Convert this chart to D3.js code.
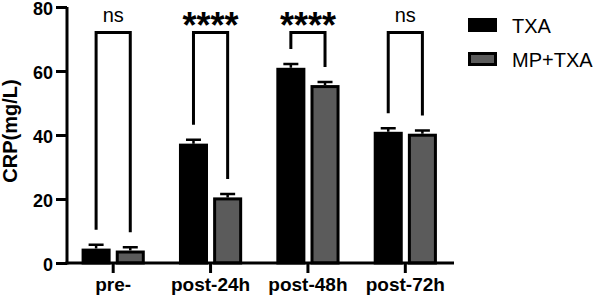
<!DOCTYPE html>
<html lang="en">
<head>
    <meta charset="UTF-8">
    <title>CRP</title>
    <script src="https://cdn.jsdelivr.net/npm/d3@7"></script>
    <style>
        body { margin: 0; background: #fff; }
        text { font-family: "Liberation Sans", Arial, sans-serif; fill: #000; }
    </style>
</head>
<body>
<div id="chart"></div>
<script>
    // data
    const categories = ["pre-", "post-24h", "post-48h", "post-72h"];
    const series = ["TXA", "MP+TXA"];
    const txaMean = [4.5, 37.3, 61.0, 41.0];
    const txaErr = [1.2, 1.2, 1.2, 1.1];
    const mpMean = [3.9, 20.5, 55.6, 40.4];
    const mpErr = [1.0, 1.1, 1.0, 1.0];
    const sigLabels = ["ns", "****", "****", "ns"];
    const yTicks = [0, 20, 40, 60, 80];

    const colors = { "TXA": "#000000", "MP+TXA": "#5b5b5b" };

    const width = 597, height = 299;
    const svg = d3.select("#chart").append("svg")
        .attr("width", width)
        .attr("height", height);

    const x0 = d3.scaleBand().domain(categories).range([64.5, 454]);
    const x1 = d3.scaleBand().domain(series).range([0, x0.bandwidth()])
        .paddingInner(0.15).paddingOuter(0.5);
    const y = d3.scaleLinear().domain([0, 80]).range([263, 7]);

    const rows = categories.map((c, i) => ({
        cat: c,
        vals: [
            { s: "TXA", v: txaMean[i], e: txaErr[i] },
            { s: "MP+TXA", v: mpMean[i], e: mpErr[i] }
        ],
        sig: sigLabels[i]
    }));

    // bars
    const groups = svg.selectAll("g.grp").data(rows).enter().append("g")
        .attr("class", "grp")
        .attr("transform", d => `translate(${x0(d.cat)},0)`);

    const bw = x1.bandwidth();
    groups.selectAll("rect").data(d => d.vals).enter().append("rect")
        .attr("x", d => x1(d.s) + 1.5)
        .attr("y", d => y(d.v) + 1.5)
        .attr("width", bw - 3)
        .attr("height", d => y(0) - y(d.v) - 1.5)
        .attr("fill", d => colors[d.s])
        .attr("stroke", "#000")
        .attr("stroke-width", 3);

    // error bars
    groups.selectAll("path.err").data(d => d.vals).enter().append("path")
        .attr("class", "err")
        .attr("d", d => {
            const cx = x1(d.s) + bw / 2;
            return `M${cx},${y(d.v)}V${y(d.v + d.e)}M${cx - 7.5},${y(d.v + d.e)}H${cx + 7.5}`;
        })
        .attr("fill", "none")
        .attr("stroke", "#000")
        .attr("stroke-width", 2.5);

    // significance brackets
    const bracketTop = y(72);
    groups.append("path")
        .attr("d", d => {
            const a = d.vals[0], b = d.vals[1];
            const xa = x1(a.s) + bw / 2, xb = x1(b.s) + bw / 2;
            return `M${xa},${y(a.v + a.e) - 15}V${bracketTop}H${xb}V${y(b.v + b.e) - 15}`;
        })
        .attr("fill", "none")
        .attr("stroke", "#000")
        .attr("stroke-width", 3);

    groups.append("text")
        .attr("x", x0.bandwidth() / 2)
        .attr("y", d => d.sig === "ns" ? 22 : 38)
        .attr("text-anchor", "middle")
        .style("font-size", d => d.sig === "ns" ? "20px" : "36px")
        .style("font-weight", d => d.sig === "ns" ? "normal" : "bold")
        .text(d => d.sig);

    // y axis
    const yAxis = svg.append("g")
        .attr("transform", "translate(67,0)")
        .call(d3.axisLeft(y).tickValues(yTicks).tickSize(11).tickPadding(3));
    yAxis.select(".domain").attr("d", `M0,${y(80)}V${y(0) + 1.5}`);

    // x axis
    const xAxis = svg.append("g")
        .attr("transform", `translate(0,${y(0)})`)
        .call(d3.axisBottom(x0).tickSize(10).tickPadding(5));
    xAxis.select(".domain").attr("d", "M65.5,0H454");

    svg.selectAll(".tick line, .domain")
        .attr("stroke", "#000")
        .attr("stroke-width", 3);
    svg.selectAll(".tick text")
        .style("font-weight", "bold")
        .style("font-family", "'Liberation Sans', Arial, sans-serif")
        .attr("fill", "#000");
    yAxis.selectAll(".tick text").style("font-size", "18px").attr("dy", "0.42em");
    xAxis.selectAll(".tick text").style("font-size", "19px");

    // y label
    svg.append("text")
        .attr("transform", "translate(17,131) rotate(-90)")
        .attr("text-anchor", "middle")
        .style("font-size", "20px")
        .style("font-weight", "bold")
        .text("CRP(mg/L)");

    // legend
    const legend = svg.append("g").attr("transform", "translate(468,18)");
    const items = legend.selectAll("g").data(series).enter().append("g")
        .attr("transform", (d, i) => `translate(0,${i * 34})`);
    items.append("rect")
        .attr("x", 1.5).attr("y", 1.5)
        .attr("width", 26).attr("height", 11)
        .attr("fill", d => colors[d])
        .attr("stroke", "#000")
        .attr("stroke-width", 3);
    items.append("text")
        .attr("x", 44).attr("y", 15)
        .style("font-size", "20px")
        .text(d => d);
</script>
</body>
</html>
